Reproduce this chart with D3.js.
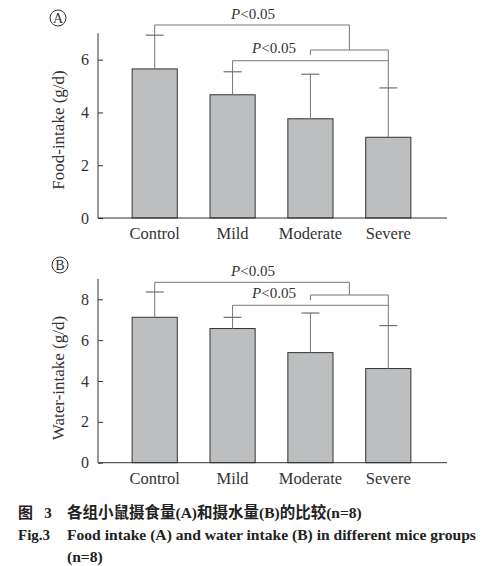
<!DOCTYPE html><html><head><meta charset="utf-8">
<script src="https://d3js.org/d3.v7.min.js"></script>
<style>body{margin:0;background:#fff}</style></head><body>
<svg id="c" width="489" height="566"></svg>
<script>
const categories=["Control","Mild","Moderate","Severe"];
const foodMean=[5.65,4.67,3.76,3.06];
const foodErr=[1.28,0.87,1.69,1.87];
const waterMean=[7.12,6.57,5.39,4.61];
const waterErr=[1.24,0.55,1.94,2.10];
const foodTicks=[0,2,4,6];
const waterTicks=[0,2,4,6,8];
const svg=d3.select("#c");
const serif="'Liberation Serif','DejaVu Serif',serif";
const x=d3.scaleBand().domain(categories).range([115,428]).paddingInner(0.42).paddingOuter(0.22);
function panel(o){
  const g=svg.append("g");
  const y=d3.scaleLinear().domain([0,o.max]).range([o.base,o.top]);
  g.selectAll(".bar").data(categories).enter().append("rect")
   .attr("x",d=>x(d)).attr("width",x.bandwidth())
   .attr("y",(d,i)=>y(o.mean[i])).attr("height",(d,i)=>o.base-y(o.mean[i]))
   .attr("fill","#bdbebf").attr("stroke","#333").attr("stroke-width",1);
  const cx=d=>x(d)+x.bandwidth()/2;
  categories.forEach((d,i)=>{
    const t=y(o.mean[i]+o.err[i]);
    g.append("line").attr("x1",cx(d)).attr("x2",cx(d)).attr("y1",y(o.mean[i])).attr("y2",t).attr("stroke","#777");
    g.append("line").attr("x1",cx(d)-9).attr("x2",cx(d)+9).attr("y1",t).attr("y2",t).attr("stroke","#555");
  });
  const ya=d3.axisLeft(y).tickValues(o.ticks).tickFormat(d3.format("d")).tickSize(-5).tickPadding(9).tickSizeOuter(0);
  const ag=g.append("g").attr("transform","translate(98,0)").call(ya);
  ag.select(".domain").attr("d",`M0,${o.top}V${o.base}`).attr("stroke","#333");
  ag.selectAll("text").attr("font-family",serif).attr("font-size",16).attr("fill","#333");
  ag.selectAll(".tick line").attr("stroke","#333");
  g.append("line").attr("x1",98).attr("x2",447).attr("y1",o.base).attr("y2",o.base).attr("stroke","#333");
  g.selectAll(".xl").data(categories).enter().append("text").attr("x",cx).attr("y",o.base+21)
   .attr("text-anchor","middle").attr("font-family",serif).attr("font-size",16.5).attr("fill","#333").text(d=>d);
  g.append("text").attr("transform",`translate(64,${o.labY}) rotate(-90)`).attr("text-anchor","middle")
   .attr("font-family",serif).attr("font-size",17).attr("fill","#333").text(o.label);
  const cC=cx("Control"),cMi=cx("Mild"),cMo=cx("Moderate"),cS=cx("Severe");
  const mid=(cMo+cS)/2;
  const sErrTop=y(o.mean[3]+o.err[3]);
  const p=d3.path();
  p.moveTo(cC,y(o.mean[0]+o.err[0]));p.lineTo(cC,o.b1);p.lineTo(mid,o.b1);p.lineTo(mid,o.b2);
  p.moveTo(cMo,o.b2+5);p.lineTo(cMo,o.b2);p.lineTo(cS,o.b2);p.lineTo(cS,sErrTop);
  p.moveTo(cMi,y(o.mean[1]+o.err[1]));p.lineTo(cMi,o.b3);p.lineTo(cS,o.b3);
  g.append("path").attr("d",p.toString()).attr("fill","none").attr("stroke","#777");
  [[253,o.b1-6],[274,o.b2+3]].forEach(([lx,ly])=>{
    const t=g.append("text").attr("x",lx).attr("y",ly).attr("text-anchor","middle").attr("font-family",serif).attr("font-size",15).attr("fill","#333");
    t.append("tspan").attr("font-style","italic").text("P");t.append("tspan").text("<0.05");
  });
  g.append("circle").attr("cx",o.cx).attr("cy",o.cy).attr("r",8).attr("fill","none").attr("stroke","#333");
  g.append("text").attr("x",o.cx).attr("y",o.cy+5).attr("text-anchor","middle").attr("font-family",serif).attr("font-size",14).attr("fill","#333").text(o.tag);
}
panel({mean:foodMean,err:foodErr,ticks:foodTicks,max:7,base:218,top:33.3,label:"Food-intake (g/d)",labY:130,b1:25,b2:50,b3:60.7,cx:58,cy:18,tag:"A"});
panel({mean:waterMean,err:waterErr,ticks:waterTicks,max:9,base:462.7,top:278.9,label:"Water-intake (g/d)",labY:378,b1:282.3,b2:295,b3:305.3,cx:60,cy:265,tag:"B"});
const cap=[["图   3","各组小鼠摄食量(A)和摄水量(B)的比较(n=8)",518,15.5],["Fig.3","Food intake (A) and water intake (B) in different mice groups",540,15.6]];
cap.forEach(([a,b,yy,fs])=>{
  svg.append("text").attr("x",18).attr("y",yy).attr("font-family",serif+",'Noto Sans CJK SC'").attr("font-weight","bold").attr("font-size",15).attr("fill","#222").attr("xml:space","preserve").text(a);
  svg.append("text").attr("x",67).attr("y",yy).attr("font-family",serif+",'Noto Sans CJK SC'").attr("font-weight","bold").attr("font-size",fs).attr("fill","#222").text(b);
});
svg.append("text").attr("x",67).attr("y",562).attr("font-family",serif).attr("font-weight","bold").attr("font-size",15.6).attr("fill","#222").text("(n=8)");
</script></body></html>
